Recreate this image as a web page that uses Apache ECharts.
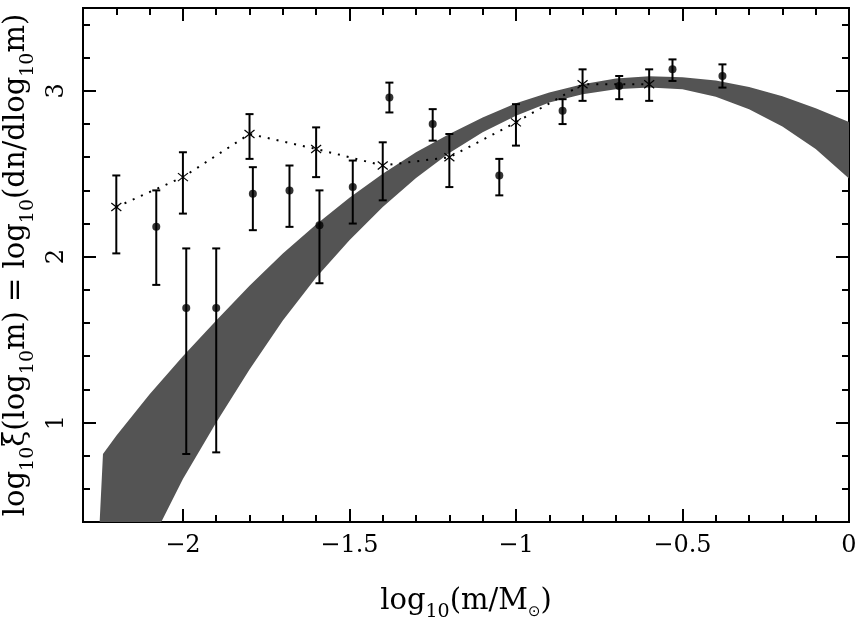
<!DOCTYPE html>
<html>
<head>
<meta charset="utf-8">
<script src="https://cdn.jsdelivr.net/npm/echarts@6/dist/echarts.min.js"></script>
<style>html,body{margin:0;padding:0;background:#fff}#c{width:859px;height:623px}</style>
</head>
<body>
<div id="c"></div>
<script>
// ---- data ----
// filled circles with error bars
const dotX  = [-2.08, -1.99, -1.90, -1.79, -1.68, -1.59, -1.49, -1.38, -1.25, -1.05, -0.86, -0.69, -0.53, -0.38];
const dotY  = [2.18, 1.69, 1.69, 2.38, 2.40, 2.19, 2.42, 2.96, 2.80, 2.49, 2.88, 3.03, 3.13, 3.09];
const dotLo = [1.83, 0.81, 0.82, 2.16, 2.18, 1.84, 2.20, 2.87, 2.70, 2.37, 2.80, 2.95, 3.06, 3.02];
const dotHi = [2.40, 2.05, 2.05, 2.54, 2.55, 2.40, 2.58, 3.05, 2.89, 2.59, 2.95, 3.09, 3.19, 3.16];
// crosses joined by dotted line
const crossX  = [-2.2, -2.0, -1.8, -1.6, -1.4, -1.2, -1.0, -0.8, -0.6];
const crossY  = [2.30, 2.48, 2.74, 2.65, 2.55, 2.60, 2.81, 3.04, 3.04];
const crossLo = [2.02, 2.26, 2.59, 2.48, 2.34, 2.42, 2.67, 2.94, 2.94];
const crossHi = [2.49, 2.63, 2.86, 2.78, 2.69, 2.74, 2.92, 3.13, 3.13];
// grey band: upper edge
const bandUpX = [-2.24, -2.2, -2.1, -2.0, -1.9, -1.8, -1.7, -1.6, -1.5, -1.4, -1.3, -1.2, -1.1, -1.0, -0.9, -0.8, -0.7, -0.6, -0.5, -0.4, -0.3, -0.2, -0.1, 0];
const bandUpY = [0.81, 0.92, 1.17, 1.40, 1.615, 1.825, 2.02, 2.195, 2.355, 2.50, 2.63, 2.74, 2.84, 2.925, 2.99, 3.04, 3.075, 3.088, 3.083, 3.062, 3.024, 2.968, 2.895, 2.813];
// grey band: lower edge (clipped at the bottom of the frame on the left)
const bandLoX = [-2.25, -2.065, -2.0, -1.9, -1.8, -1.7, -1.6, -1.5, -1.4, -1.3, -1.2, -1.1, -1.0, -0.9, -0.8, -0.7, -0.6, -0.5, -0.4, -0.3, -0.2, -0.1, 0];
const bandLoY = [0.40, 0.40, 0.66, 1.00, 1.32, 1.615, 1.875, 2.10, 2.30, 2.475, 2.625, 2.75, 2.85, 2.93, 2.98, 3.01, 3.02, 3.01, 2.965, 2.89, 2.785, 2.65, 2.472];
// axis ticks
const xMajor = [-2, -1.5, -1, -0.5, 0];
const xMinor = [-2.2, -2.1, -1.9, -1.8, -1.7, -1.6, -1.4, -1.3, -1.2, -1.1, -0.9, -0.8, -0.7, -0.6, -0.4, -0.3, -0.2, -0.1];
const yMajor = [1, 2, 3];
const yMinor = [0.6, 0.8, 1.2, 1.4, 1.6, 1.8, 2.2, 2.4, 2.6, 2.8, 3.2, 3.4];
const xRange = [-2.3, 0];
const yRange = [0.4, 3.5];

const FONT = 'DejaVu Serif';
const chart = echarts.init(document.getElementById('c'), null, {renderer: 'canvas'});

function minus(v) { return String(v).replace('-', '\u2212'); }

const subStyle = {fontFamily: FONT, fontSize: 19, color: '#000', padding: [23, 0, 0, 0]};
const baseStyle = {fontFamily: FONT, fontSize: 29, color: '#000'};

function mkX(pos, major, labels) {
  return {
    type: 'value', position: pos, min: xRange[0], max: xRange[1],
    axisLine: {show: true, onZero: false, lineStyle: {color: '#000', width: 2}},
    axisTick: {show: true, inside: true, customValues: major ? xMajor : xMinor, length: major ? 13 : 7, lineStyle: {color: '#000', width: 2}},
    axisLabel: {show: labels, customValues: xMajor, formatter: minus, fontFamily: FONT, fontSize: 24, color: '#000', margin: 12},
    splitLine: {show: false}
  };
}
function mkY(pos, major, labels) {
  return {
    type: 'value', position: pos, min: yRange[0], max: yRange[1],
    axisLine: {show: true, onZero: false, lineStyle: {color: '#000', width: 2}},
    axisTick: {show: true, inside: true, customValues: major ? yMajor : yMinor, length: major ? 13 : 7, lineStyle: {color: '#000', width: 2}},
    axisLabel: {show: labels, customValues: yMajor, rotate: 90, fontFamily: FONT, fontSize: 24, color: '#000', margin: 14},
    splitLine: {show: false}
  };
}

const xAxes = [mkX('bottom', true, true), mkX('bottom', false, false), mkX('top', true, false), mkX('top', false, false)];
xAxes[0].name = '{b|log}{s|10}{b|(m/M}{o|\u2299}{b|)}';
xAxes[0].nameLocation = 'middle';
xAxes[0].nameGap = 58;
xAxes[0].nameTextStyle = {rich: {b: baseStyle, s: subStyle, o: {fontFamily: 'DejaVu Sans', fontSize: 15, color: '#000', padding: [23, 0, 0, 0]}}};

const yAxes = [mkY('left', true, true), mkY('left', false, false), mkY('right', true, false), mkY('right', false, false)];
yAxes[0].name = '{b|log}{s|10}{b|\u03be(log}{s|10}{b|m) = log}{s|10}{b|(dn/dlog}{s|10}{b|m)}';
yAxes[0].nameLocation = 'middle';
yAxes[0].nameRotate = 90;
yAxes[0].nameGap = 40;
yAxes[0].nameTextStyle = {rich: {b: baseStyle, s: subStyle}};

const dotErr = dotX.map((x, i) => [x, dotLo[i], dotHi[i]]);
const crossData = crossX.map((x, i) => [x, crossY[i], crossLo[i], crossHi[i]]);

function errBar(api, x, lo, hi, extra) {
  const a = api.coord([x, lo]), b = api.coord([x, hi]);
  const w = 4;
  const st = {stroke: '#000', lineWidth: 2};
  const ch = [
    {type: 'line', shape: {x1: a[0], y1: a[1], x2: b[0], y2: b[1]}, style: st},
    {type: 'line', shape: {x1: a[0] - w, y1: a[1], x2: a[0] + w, y2: a[1]}, style: st},
    {type: 'line', shape: {x1: b[0] - w, y1: b[1], x2: b[0] + w, y2: b[1]}, style: st}
  ];
  return ch.concat(extra || []);
}

const option = {
  backgroundColor: '#fff',
  animation: false,
  grid: {left: 83, right: 10, top: 8, bottom: 101, containLabel: false, outerBoundsMode: 'none'},
  xAxis: xAxes,
  yAxis: yAxes,
  series: [
    {
      type: 'custom', xAxisIndex: 0, yAxisIndex: 0, z: 1, silent: true,
      data: [[-1, 2]],
      renderItem: function (params, api) {
        const pts = [];
        for (let i = 0; i < bandUpX.length; i++) pts.push(api.coord([bandUpX[i], bandUpY[i]]));
        for (let i = bandLoX.length - 1; i >= 0; i--) pts.push(api.coord([bandLoX[i], bandLoY[i]]));
        return {type: 'polygon', shape: {points: pts}, style: {fill: '#545454', stroke: null}};
      }
    },
    {
      type: 'line', xAxisIndex: 0, yAxisIndex: 0, z: 3, silent: true,
      data: crossX.map((x, i) => [x, crossY[i]]),
      showSymbol: false, symbol: 'none',
      lineStyle: {color: '#000', width: 2, type: [2, 7], cap: 'butt'}
    },
    {
      type: 'custom', xAxisIndex: 0, yAxisIndex: 0, z: 4, silent: true,
      data: dotErr,
      renderItem: function (params, api) {
        return {type: 'group', children: errBar(api, api.value(0), api.value(1), api.value(2))};
      }
    },
    {
      type: 'scatter', xAxisIndex: 0, yAxisIndex: 0, z: 5, silent: true,
      data: dotX.map((x, i) => [x, dotY[i]]),
      symbol: 'circle', symbolSize: 8, itemStyle: {color: '#000'}
    },
    {
      type: 'custom', xAxisIndex: 0, yAxisIndex: 0, z: 5, silent: true,
      data: crossData,
      renderItem: function (params, api) {
        const c = api.coord([api.value(0), api.value(1)]);
        const hx = 5, hy = 4;
        const st = {stroke: '#000', lineWidth: 1.2};
        const xs = [
          {type: 'line', shape: {x1: c[0] - hx, y1: c[1] - hy, x2: c[0] + hx, y2: c[1] + hy}, style: st},
          {type: 'line', shape: {x1: c[0] - hx, y1: c[1] + hy, x2: c[0] + hx, y2: c[1] - hy}, style: st}
        ];
        return {type: 'group', children: errBar(api, api.value(0), api.value(2), api.value(3), xs)};
      }
    }
  ]
};
chart.setOption(option);
</script>
</body>
</html>
